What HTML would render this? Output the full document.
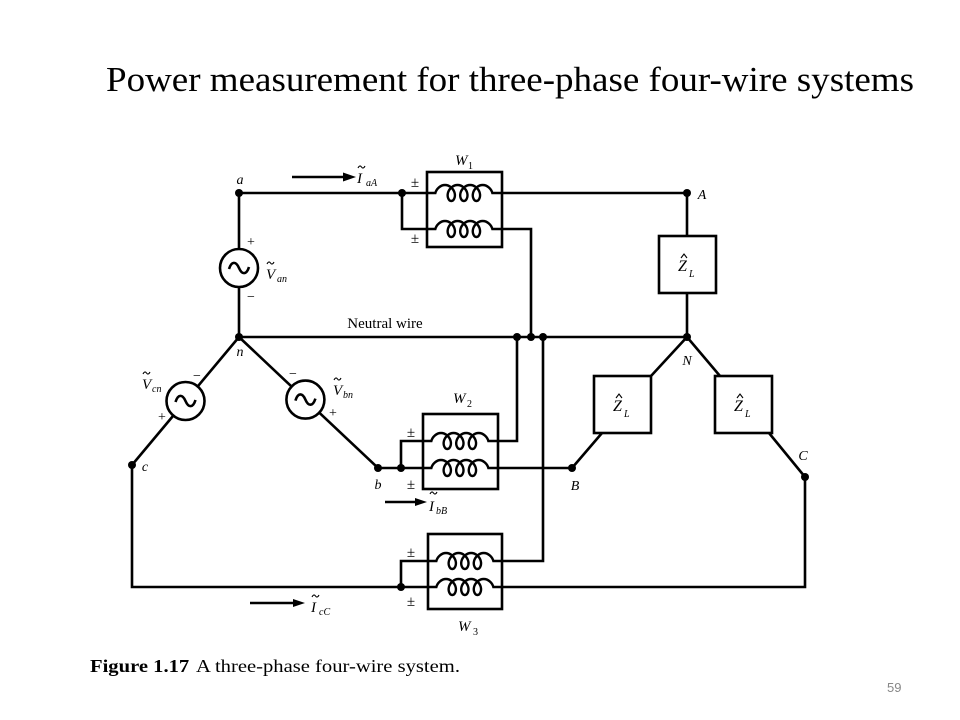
<!DOCTYPE html>
<html>
<head>
<meta charset="utf-8">
<style>
  html, body { margin:0; padding:0; background:#fff; }
  svg { display:block; }
  .w { fill:none; stroke:#000; stroke-width:2.6; stroke-linejoin:miter; }
  .t { font-family:"Liberation Serif", serif; fill:#000; }
  .i { font-family:"Liberation Serif", serif; font-style:italic; fill:#000; }
  .thin { fill:none; stroke:#000; stroke-width:1.1; }
</style>
</head>
<body>
<svg width="960" height="720" viewBox="0 0 960 720" xmlns="http://www.w3.org/2000/svg">
  <defs>
    <path id="coil" fill="none" stroke="#000" stroke-width="2.4" d="M0,0 H8.36 C9.41,-4.19 13.55,-8 18,-8 C22.45,-8 26.59,-4.19 27.64,0 C28.69,4.19 26.64,8 24.28,8 C21.92,8 19.87,4.19 20.92,0 C21.97,-4.19 26.12,-8 30.57,-8 C35.02,-8 39.16,-4.19 40.21,0 C41.26,4.19 39.21,8 36.85,8 C34.49,8 32.44,4.19 33.49,0 C34.54,-4.19 38.69,-8 43.14,-8 C47.59,-8 51.73,-4.19 52.78,0 C53.83,4.19 51.78,8 49.42,8 C47.06,8 45.01,4.19 46.06,0 C47.11,-4.19 51.26,-8 55.71,-8 C60.16,-8 64.30,-4.19 65.35,0 H75"/>
  </defs>

  <!-- Title -->
  <text class="t" x="106" y="91" font-size="35" textLength="808" lengthAdjust="spacingAndGlyphs">Power measurement for three-phase four-wire systems</text>

  <!-- Wires -->
  <path class="w" d="M239,193 H427"/>
  <path class="w" d="M402,193 V229 H427"/>
  <path class="w" d="M502,193 H687"/>
  <path class="w" d="M502,229 H531 V337"/>
  <path class="w" d="M239,193 V249 M239,287 V337"/>
  <path class="w" d="M239,337 H687"/>
  <path class="w" d="M687,193 V236 M687,293 V337"/>
  <path class="w" d="M651,376 L687,337 L720,376"/>
  <path class="w" d="M602,433 L572,468 M769,433 L805,477"/>
  <path class="w" d="M239,337 L197.7,386.4 M173.4,415.5 L132,465 V587 H428"/>
  <path class="w" d="M239,337 L291.6,386.6 M319.3,412.7 L378,468 H423"/>
  <path class="w" d="M401,468 V441 H423"/>
  <path class="w" d="M498,441 H517 V337"/>
  <path class="w" d="M498,468 H572"/>
  <path class="w" d="M543,337 V561 H502"/>
  <path class="w" d="M401,587 V561 H428"/>
  <path class="w" d="M502,587 H805 V477"/>

  <!-- Sources -->
  <circle class="w" cx="239" cy="268" r="19" fill="#fff"/>
  <path class="w" stroke-width="2.2" d="M229,269 C231.5,261 236,261 239,268 C242,275 246.5,275 249,267"/>
  <circle class="w" cx="185.5" cy="401" r="19"/>
  <path class="w" stroke-width="2.2" d="M175.5,402 C178,394 182.5,394 185.5,401 C188.5,408 193,408 195.5,400"/>
  <circle class="w" cx="305.4" cy="399.6" r="19"/>
  <path class="w" stroke-width="2.2" d="M295.4,400.6 C297.9,392.6 302.4,392.6 305.4,399.6 C308.4,406.6 312.9,406.6 315.4,398.6"/>

  <!-- Wattmeter boxes -->
  <rect class="w" x="427" y="172" width="75" height="75"/>
  <rect class="w" x="423" y="414" width="75" height="75"/>
  <rect class="w" x="428" y="534" width="74" height="75"/>
  <use href="#coil" x="427" y="193"/>
  <use href="#coil" x="427" y="229"/>
  <use href="#coil" x="423" y="441"/>
  <use href="#coil" x="423" y="468"/>
  <use href="#coil" x="428" y="561"/>
  <use href="#coil" x="428" y="587"/>

  <!-- Load boxes -->
  <rect class="w" x="659" y="236" width="57" height="57"/>
  <rect class="w" x="594" y="376" width="57" height="57"/>
  <rect class="w" x="715" y="376" width="57" height="57"/>

  <!-- Dots -->
  <g fill="#000">
    <circle cx="239" cy="193" r="4"/>
    <circle cx="402" cy="193" r="4"/>
    <circle cx="687" cy="193" r="4"/>
    <circle cx="239" cy="337" r="4"/>
    <circle cx="517" cy="337" r="4"/>
    <circle cx="531" cy="337" r="4"/>
    <circle cx="543" cy="337" r="4"/>
    <circle cx="687" cy="337" r="4"/>
    <circle cx="132" cy="465" r="4"/>
    <circle cx="378" cy="468" r="4"/>
    <circle cx="401" cy="468" r="4"/>
    <circle cx="572" cy="468" r="4"/>
    <circle cx="805" cy="477" r="4"/>
    <circle cx="401" cy="587" r="4"/>
  </g>

  <!-- Current arrows -->
  <path class="w" stroke-width="2" d="M292,177 H346"/>
  <polygon points="356,177 343,172.5 343,181.5" fill="#000"/>
  <path class="w" stroke-width="2" d="M385,502 H418"/>
  <polygon points="427,502 415,498 415,506" fill="#000"/>
  <path class="w" stroke-width="2" d="M250,603 H296"/>
  <polygon points="305,603 293,599 293,607" fill="#000"/>

  <!-- Labels -->
  <text class="i" x="240" y="184" font-size="14" text-anchor="middle">a</text>
  <text class="i" x="455" y="165" font-size="15">W</text>
  <text class="t" x="468" y="169" font-size="10">1</text>

  <text class="i" x="357" y="183" font-size="15">I</text>
  <path class="thin" d="M358,168 c1.2,-2.5 2.5,-2.5 3.5,-1 s2.3,1.5 3.5,-1"/>
  <text class="i" x="366" y="186" font-size="10">aA</text>

  <text class="t" x="415" y="187" font-size="15" text-anchor="middle">±</text>
  <text class="t" x="415" y="243" font-size="15" text-anchor="middle">±</text>
  <text class="t" x="411" y="437" font-size="15" text-anchor="middle">±</text>
  <text class="t" x="411" y="489" font-size="15" text-anchor="middle">±</text>
  <text class="t" x="411" y="557" font-size="15" text-anchor="middle">±</text>
  <text class="t" x="411" y="606" font-size="15" text-anchor="middle">±</text>

  <text class="i" x="266" y="279" font-size="15">V</text>
  <path class="thin" d="M267,264 c1.2,-2.5 2.5,-2.5 3.5,-1 s2.3,1.5 3.5,-1"/>
  <text class="i" x="277" y="282" font-size="10">an</text>
  <text class="t" x="251" y="246" font-size="14" text-anchor="middle">+</text>
  <text class="t" x="251" y="301" font-size="14" text-anchor="middle">−</text>

  <text class="t" x="385" y="328" font-size="15" text-anchor="middle">Neutral wire</text>
  <text class="i" x="240" y="356" font-size="14" text-anchor="middle">n</text>

  <text class="i" x="142" y="389" font-size="15">V</text>
  <path class="thin" d="M143,374 c1.2,-2.5 2.5,-2.5 3.5,-1 s2.3,1.5 3.5,-1"/>
  <text class="i" x="152" y="392" font-size="10">cn</text>
  <text class="t" x="197" y="380" font-size="14" text-anchor="middle">−</text>
  <text class="t" x="162" y="421" font-size="14" text-anchor="middle">+</text>

  <text class="i" x="333" y="395" font-size="15">V</text>
  <path class="thin" d="M334,380 c1.2,-2.5 2.5,-2.5 3.5,-1 s2.3,1.5 3.5,-1"/>
  <text class="i" x="343" y="398" font-size="10">bn</text>
  <text class="t" x="293" y="378" font-size="14" text-anchor="middle">−</text>
  <text class="t" x="333" y="417" font-size="14" text-anchor="middle">+</text>

  <text class="i" x="145" y="471" font-size="14" text-anchor="middle">c</text>
  <text class="i" x="378" y="489" font-size="14" text-anchor="middle">b</text>

  <text class="i" x="453" y="403" font-size="15">W</text>
  <text class="t" x="467" y="407" font-size="10">2</text>

  <text class="i" x="429" y="511" font-size="15">I</text>
  <path class="thin" d="M430,494 c1.2,-2.5 2.5,-2.5 3.5,-1 s2.3,1.5 3.5,-1"/>
  <text class="i" x="436" y="514" font-size="10">bB</text>

  <text class="i" x="575" y="490" font-size="14" text-anchor="middle">B</text>

  <text class="i" x="458" y="631" font-size="15">W</text>
  <text class="t" x="473" y="635" font-size="10">3</text>

  <text class="i" x="311" y="612" font-size="15">I</text>
  <path class="thin" d="M312,597 c1.2,-2.5 2.5,-2.5 3.5,-1 s2.3,1.5 3.5,-1"/>
  <text class="i" x="319" y="615" font-size="10">cC</text>

  <!-- Z_L labels -->
  <text class="i" x="678" y="271" font-size="16">Z</text>
  <path class="thin" d="M681,258 L684,254 L687,258"/>
  <text class="i" x="689" y="277" font-size="10">L</text>

  <text class="i" x="613" y="411" font-size="16">Z</text>
  <path class="thin" d="M616,398 L619,394 L622,398"/>
  <text class="i" x="624" y="417" font-size="10">L</text>

  <text class="i" x="734" y="411" font-size="16">Z</text>
  <path class="thin" d="M737,398 L740,394 L743,398"/>
  <text class="i" x="745" y="417" font-size="10">L</text>

  <text class="i" x="702" y="199" font-size="14" text-anchor="middle">A</text>
  <text class="i" x="687" y="365" font-size="14" text-anchor="middle">N</text>
  <text class="i" x="803" y="460" font-size="14" text-anchor="middle">C</text>

  <!-- Caption -->
  <text class="t" x="90" y="672" font-size="18" textLength="370" lengthAdjust="spacingAndGlyphs"><tspan font-weight="bold">Figure 1.17</tspan><tspan dx="6">A three-phase four-wire system.</tspan></text>

  <!-- Page number -->
  <text x="887" y="692" font-size="13" font-family="Liberation Sans, sans-serif" fill="#888">59</text>
</svg>
</body>
</html>
